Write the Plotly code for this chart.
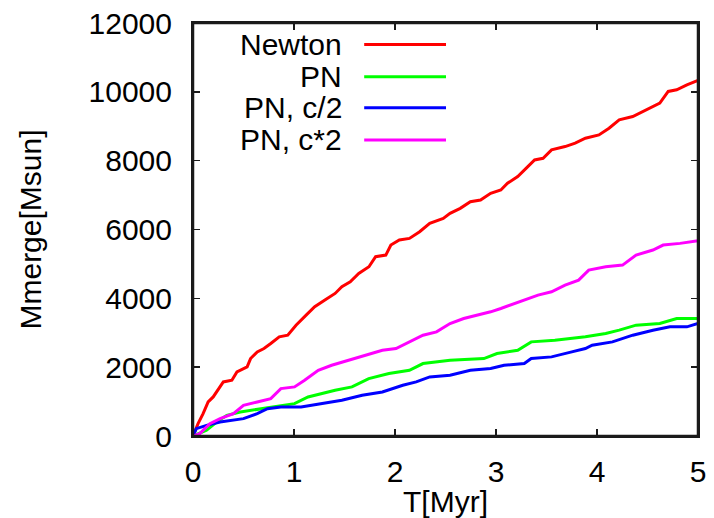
import plotly.graph_objects as go

# ---- data ----
newton_t = [0, 0.05, 0.1, 0.15, 0.2, 0.27, 0.3, 0.385, 0.435, 0.536, 0.57, 0.636, 0.703, 0.77,
            0.854, 0.938, 1.02, 1.12, 1.205, 1.306, 1.407, 1.474, 1.557, 1.641, 1.742, 1.808,
            1.909, 1.959, 2.043, 2.143, 2.244, 2.344, 2.478, 2.545, 2.646, 2.746, 2.847, 2.947,
            3.048, 3.114, 3.215, 3.315, 3.382, 3.466, 3.55, 3.684, 3.784, 3.885, 4.019, 4.119,
            4.22, 4.354, 4.488, 4.622, 4.705, 4.789, 4.89, 5.0]
newton_m = [0, 359, 650, 990, 1135, 1426, 1571, 1620, 1862, 2008, 2250, 2444, 2541, 2687,
            2881, 2929, 3220, 3511, 3754, 3948, 4142, 4336, 4481, 4724, 4918, 5209,
            5257, 5548, 5694, 5742, 5936, 6179, 6324, 6470, 6615, 6809, 6858, 7052,
            7149, 7343, 7537, 7828, 8022, 8070, 8313, 8410, 8507, 8652, 8749, 8943,
            9186, 9283, 9477, 9671, 10011, 10059, 10204, 10330]

pn_t = [0, 0.134, 0.234, 0.335, 0.469, 0.67, 0.87, 1.005, 1.139, 1.273, 1.407, 1.574, 1.74,
        1.94, 2.143, 2.277, 2.545, 2.88, 3.01, 3.215, 3.349, 3.583, 3.885, 4.086, 4.22,
        4.387, 4.622, 4.789, 5.0]
pn_m = [0, 165, 407, 601, 698, 795, 892, 941, 1135, 1232, 1329, 1426, 1668,
        1814, 1911, 2105, 2202, 2250, 2396, 2493, 2735, 2784, 2881, 2978, 3075,
        3220, 3269, 3414, 3414]

pnhalf_t = [0, 0.033, 0.134, 0.268, 0.5, 0.636, 0.737, 0.87, 1.07, 1.273, 1.474, 1.675, 1.875,
            2.077, 2.21, 2.344, 2.545, 2.746, 2.947, 3.08, 3.28, 3.349, 3.55, 3.75, 3.885,
            3.952, 4.153, 4.354, 4.554, 4.722, 4.89, 5.0]
pnhalf_m = [0, 213, 310, 407, 504, 650, 795, 844, 844, 941, 1038, 1183, 1280,
            1474, 1571, 1717, 1765, 1911, 1959, 2056, 2105, 2250, 2299, 2444, 2541,
            2638, 2735, 2929, 3075, 3172, 3172, 3269]

pndbl_t = [0, 0.067, 0.167, 0.268, 0.4, 0.5, 0.636, 0.77, 0.87, 1.005, 1.105, 1.24, 1.373,
           1.54, 1.708, 1.875, 2.01, 2.143, 2.277, 2.411, 2.545, 2.68, 2.814, 2.947, 3.048,
           3.18, 3.28, 3.416, 3.55, 3.684, 3.818, 3.918, 4.086, 4.253, 4.387, 4.554, 4.655,
           4.822, 5.0]
pndbl_m = [0, 68, 359, 504, 650, 892, 990, 1086, 1377, 1426, 1620, 1911, 2056,
           2202, 2347, 2493, 2541, 2735, 2929, 3026, 3269, 3414, 3511, 3608, 3705,
           3851, 3948, 4093, 4190, 4384, 4529, 4820, 4918, 4966, 5257, 5403, 5548,
           5597, 5675]

series_names = ["Newton", "PN", "PN, c/2", "PN, c*2"]
series_colors = ["#ff0000", "#00ff00", "#0000ff", "#ff00ff"]
series_t = [newton_t, pn_t, pnhalf_t, pndbl_t]
series_m = [newton_m, pn_m, pnhalf_m, pndbl_m]

x_ticks = [0, 1, 2, 3, 4, 5]
x_tick_labels = ["0", "1", "2", "3", "4", "5"]
y_ticks = [0, 2000, 4000, 6000, 8000, 10000, 12000]
y_tick_labels = ["0", "2000", "4000", "6000", "8000", "10000", "12000"]

FONT = "Liberation Sans, Arial, sans-serif"
FS = 30
FRAME = "#1a1a1a"

fig = go.Figure()
for name, col, t, m in zip(series_names, series_colors, series_t, series_m):
    fig.add_trace(go.Scatter(x=t, y=m, mode="lines", name=name, hoverinfo="skip",
                             line=dict(color=col, width=3), showlegend=False))

# manual gnuplot-style legend: right-aligned text, line sample to the right
legend_y = [0.948, 0.870, 0.795, 0.717]
for name, col, ly in zip(series_names, series_colors, legend_y):
    fig.add_annotation(x=0.299, y=ly, xref="paper", yref="paper", text=name,
                       showarrow=False, xanchor="right", yanchor="middle",
                       font=dict(family=FONT, size=FS, color="black"))
    fig.add_shape(type="line", xref="paper", yref="paper", x0=0.339, x1=0.501,
                  y0=ly, y1=ly, line=dict(color=col, width=3))

# plot frame as four separate edges
for (fx0, fy0, fx1, fy1) in [(0, 1, 1, 1), (1, 0, 1, 1), (0, 0, 1, 0), (0, 0, 0, 1)]:
    fig.add_shape(type="line", xref="paper", yref="paper", x0=fx0, y0=fy0, x1=fx1, y1=fy1,
                  line=dict(color=FRAME, width=2.5), layer="above")

axis_common = dict(showgrid=False, zeroline=False, showline=True, linecolor=FRAME,
                   linewidth=2, mirror="allticks", ticks="inside", ticklen=7,
                   tickcolor=FRAME, tickwidth=1.5, automargin=False,
                   ticklabeloverflow="allow",
                   tickfont=dict(family=FONT, size=FS, color="black"))

fig.update_layout(
    width=706, height=510,
    margin=dict(l=185, r=16, t=15, b=82),
    paper_bgcolor="white", plot_bgcolor="white",
    hovermode=False, dragmode=False,
    xaxis=dict(range=[0, 5], tickvals=x_ticks, ticktext=x_tick_labels, ticklabelstandoff=8,
               title=dict(text="T[Myr]", font=dict(family=FONT, size=FS, color="black"),
                          standoff=0),
               **axis_common),
    yaxis=dict(range=[0, 12000], tickvals=y_ticks, ticktext=y_tick_labels,
               ticklabelstandoff=13,
               title=dict(text="Mmerge[Msun]", font=dict(family=FONT, size=FS, color="black"),
                          standoff=38),
               **axis_common),
)

fig.write_html("out.html", config={"displayModeBar": False, "staticPlot": True})
